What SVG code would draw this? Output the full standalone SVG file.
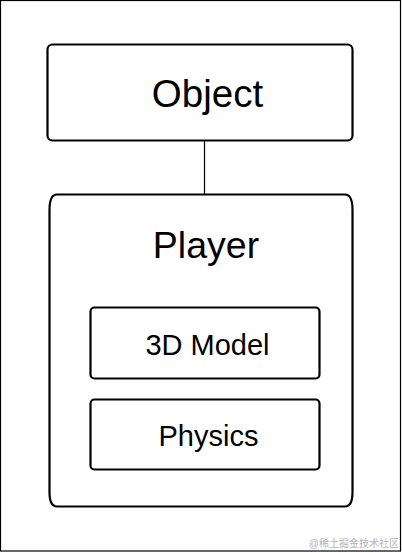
<svg xmlns="http://www.w3.org/2000/svg" width="402" height="552" viewBox="0 0 402 552">
<style>
.box{fill:#fff;stroke:#000;stroke-width:2.2}
.t{font-family:"Liberation Sans",Arial,sans-serif;fill:#000;text-anchor:middle}
.wm{font-family:"Liberation Sans","Noto Sans CJK SC",sans-serif;fill:#b4b4b4;font-size:10px;text-anchor:end}
</style>
<rect x="0.5" y="0.5" width="400" height="550.5" fill="#fff" stroke="#000" stroke-width="1.2"/>
<g id="connectors">
<line x1="204.5" y1="141" x2="204.5" y2="194" stroke="#000" stroke-width="1.2"/>
</g>
<g id="object">
<rect class="box" x="47.5" y="44.5" width="305" height="96" rx="5"/>
<text class="t" x="207.5" y="107" font-size="38.5">Object</text>
</g>
<g id="player">
<path class="box" d="M57 194.5 L345 194.5 Q352.5 194.5 352.5 210 L352.5 492 Q352.5 506.5 345 506.5 L57 506.5 Q49.5 506.5 49.5 492 L49.5 210 Q49.5 194.5 57 194.5 Z"/>
<text class="t" x="206" y="257.5" font-size="37.5">Player</text>
</g>
<g id="model3d">
<rect class="box" x="90.5" y="307.5" width="229" height="71" rx="4"/>
<text class="t" x="207.5" y="354.5" font-size="29">3D Model</text>
</g>
<g id="physics">
<rect class="box" x="90.5" y="399.5" width="229" height="70" rx="4"/>
<text class="t" x="208.5" y="445.5" font-size="29">Physics</text>
</g>
<text class="wm" x="399" y="547">@稀土掘金技术社区</text>
</svg>
